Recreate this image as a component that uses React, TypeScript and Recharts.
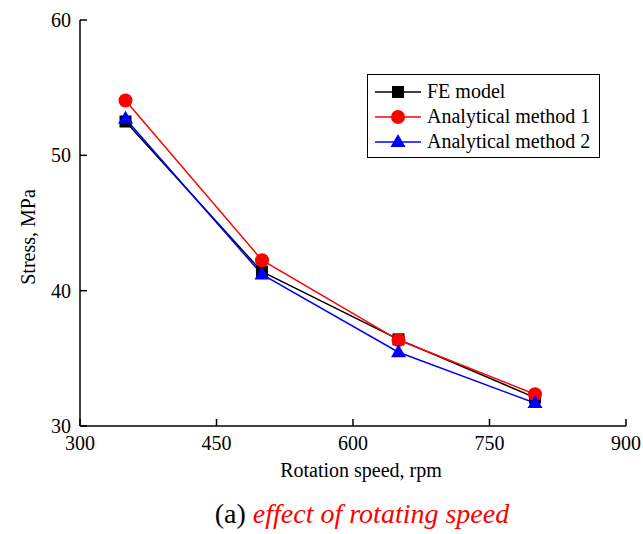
import React from 'react';
import { LineChart, Line, XAxis, YAxis, Legend } from 'recharts';

const speeds = [350, 500, 650, 800];
const feModel = [52.5, 41.4, 36.4, 32.1];
const method1 = [54.05, 42.25, 36.35, 32.35];
const method2 = [52.7, 41.2, 35.45, 31.7];

const xTicks = [300, 450, 600, 750, 900];
const yTicks = [30, 40, 50, 60];

const seriesNames = ['FE model', 'Analytical method 1', 'Analytical method 2'];

const FONT = "'Liberation Serif', 'Times New Roman', serif";
const serif = { fontFamily: FONT };

const data = speeds.map((s, i) => ({
  speed: s,
  fe: feModel[i],
  m1: method1[i],
  m2: method2[i],
}));

const SquareDot = (props: any) => {
  const { cx, cy } = props;
  if (cx == null || cy == null) return null;
  return <rect x={cx - 6} y={cy - 6} width={12} height={12} fill="#000" />;
};

const CircleDot = (props: any) => {
  const { cx, cy } = props;
  if (cx == null || cy == null) return null;
  return <circle cx={cx} cy={cy} r={7} fill="#ff0000" />;
};

const TriangleDot = (props: any) => {
  const { cx, cy } = props;
  if (cx == null || cy == null) return null;
  return <polygon points={`${cx},${cy - 8} ${cx - 7.5},${cy + 5} ${cx + 7.5},${cy + 5}`} fill="#0000ff" />;
};

const XTick = (props: any) => {
  const { x, y, payload } = props;
  return (
    <g>
      <line x1={x} y1={y} x2={x} y2={y - 7} stroke="#000" strokeWidth={1.5} />
      <text x={x} y={y + 24} textAnchor="middle" style={serif} fontSize={20} fill="#000">
        {payload.value}
      </text>
    </g>
  );
};

const YTick = (props: any) => {
  const { x, y, payload } = props;
  return (
    <g>
      <line x1={x} y1={y} x2={x + 7} y2={y} stroke="#000" strokeWidth={1.5} />
      <text x={x - 9} y={y + 7} textAnchor="end" style={serif} fontSize={20} fill="#000">
        {payload.value}
      </text>
    </g>
  );
};

const legendMarks = [
  { color: '#000', shape: 'square' },
  { color: '#ff0000', shape: 'circle' },
  { color: '#0000ff', shape: 'triangle' },
];

const LegendBox = () => (
  <div
    style={{
      border: '1px solid #000',
      background: '#fff',
      padding: '4px 8px 3px 7px',
      fontFamily: FONT,
      fontSize: 20,
      lineHeight: '25px',
      width: 216,
    }}
  >
    {seriesNames.map((name, i) => {
      const m = legendMarks[i];
      return (
        <div key={name} style={{ display: 'flex', alignItems: 'center', whiteSpace: 'nowrap' }}>
          <svg width={52} height={18} style={{ flex: 'none' }}>
            <line x1={0} y1={9} x2={46} y2={9} stroke={m.color} strokeWidth={1.5} />
            {m.shape === 'square' && <rect x={17} y={3} width={12} height={12} fill={m.color} />}
            {m.shape === 'circle' && <circle cx={23} cy={9} r={7} fill={m.color} />}
            {m.shape === 'triangle' && <polygon points="23,1 15.5,14 30.5,14" fill={m.color} />}
          </svg>
          <span>{name}</span>
        </div>
      );
    })}
  </div>
);

export default function App() {
  return (
    <div style={{ position: 'absolute', left: 0, top: 0, width: 643, height: 534, background: '#fff', fontFamily: FONT }}>
      <LineChart width={643} height={534} data={data} margin={{ top: 20, right: 17, left: 0, bottom: 68 }}>
        <XAxis
          dataKey="speed"
          type="number"
          domain={[300, 900]}
          ticks={xTicks}
          tickSize={0}
          tickMargin={0}
          tickLine={false}
          tick={<XTick />}
          height={40}
          axisLine={{ stroke: '#000', strokeWidth: 1.5 }}
          interval={0}
        />
        <YAxis
          type="number"
          domain={[30, 60]}
          ticks={yTicks}
          tickSize={0}
          tickMargin={0}
          tickLine={false}
          tick={<YTick />}
          width={80}
          axisLine={{ stroke: '#000', strokeWidth: 1.5 }}
          interval={0}
        />
        <Legend
          layout="vertical"
          align="center"
          verticalAlign="middle"
          content={<LegendBox />}
          wrapperStyle={{ position: 'absolute', left: 367, top: 74, width: 'auto', height: 'auto', bottom: 'auto', right: 'auto' }}
        />
        <Line
          dataKey="fe"
          name={seriesNames[0]}
          stroke="#000"
          strokeWidth={1.5}
          dot={<SquareDot />}
          activeDot={false}
          isAnimationActive={false}
        />
        <Line
          dataKey="m1"
          name={seriesNames[1]}
          stroke="#ff0000"
          strokeWidth={1.5}
          dot={<CircleDot />}
          activeDot={false}
          isAnimationActive={false}
        />
        <Line
          dataKey="m2"
          name={seriesNames[2]}
          stroke="#0000ff"
          strokeWidth={1.5}
          dot={<TriangleDot />}
          activeDot={false}
          isAnimationActive={false}
        />
      </LineChart>
      <svg
        width={643}
        height={534}
        style={{ position: 'absolute', left: 0, top: 0, pointerEvents: 'none' }}
      >
        <text transform="translate(35,237) rotate(-90)" textAnchor="middle" style={serif} fontSize={20} fill="#000">
          Stress, MPa
        </text>
        <text x={361} y={477} textAnchor="middle" style={serif} fontSize={20} fill="#000">
          Rotation speed, rpm
        </text>
        <text x={362} y={523} textAnchor="middle" style={serif} fontSize={28} fill="#000">
          (a){' '}
          <tspan fill="#ff0000" fontStyle="italic">
            effect of rotating speed
          </tspan>
        </text>
      </svg>
    </div>
  );
}
